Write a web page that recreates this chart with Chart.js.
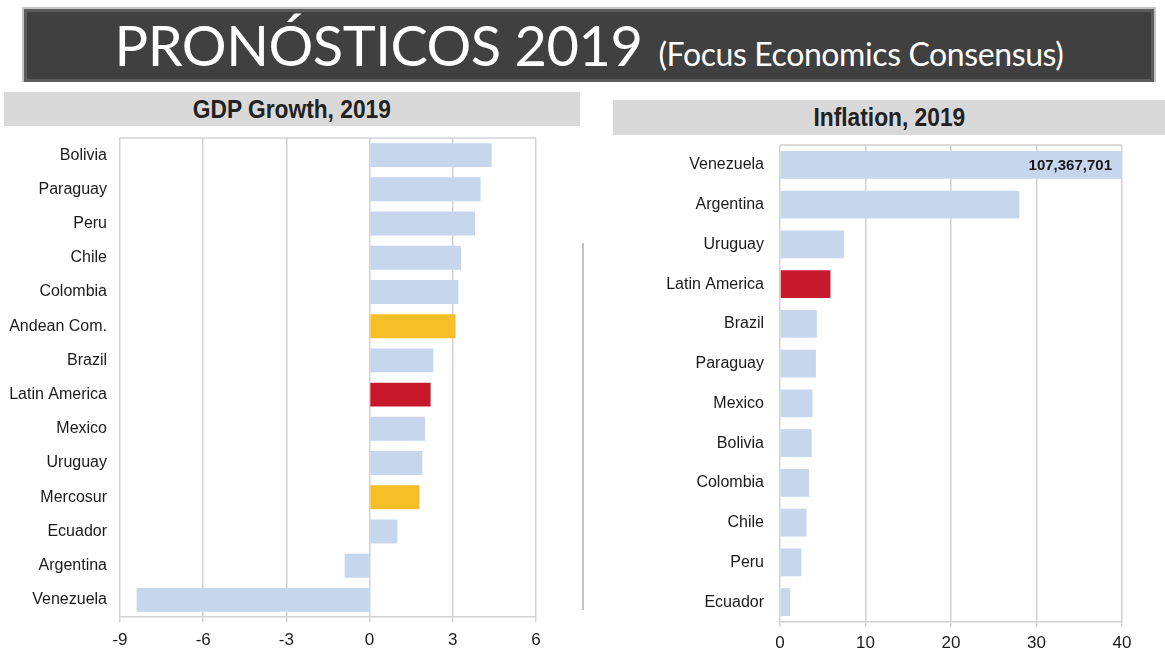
<!DOCTYPE html>
<html>
<head>
<meta charset="utf-8">
<script src="https://cdn.jsdelivr.net/npm/chart.js@4.4.1/dist/chart.umd.min.js"></script>
<style>
  body { margin: 0; width: 1165px; height: 651px; background: #fff; position: relative; overflow: hidden; font-family: "Liberation Sans", Arial, sans-serif; }
  .banner { position: absolute; left: 22px; top: 7px; width: 1134px; height: 75px; background: #404040; border: 2px solid #c4c4c4; border-bottom: none; box-shadow: inset 0 0 0 3px #5c5c5c; display: flex; justify-content: center; align-items: baseline; color: #fff; font-family: Lato, "Open Sans", sans-serif; box-sizing: border-box; padding-top: 2px; }
  .banner .big { font-size: 56px; font-weight: 400; letter-spacing: -0.5px; }
  .banner .small { font-size: 32px; margin-left: 16px; letter-spacing: -0.4px; }
  .head { position: absolute; background: #d9d9d9; color: #222; font-weight: bold; font-size: 25px; text-align: center; }
  .head span { display: inline-block; transform: scaleX(0.91); }
  #gdpHead { left: 4px; top: 92px; width: 576px; height: 34px; line-height: 34px; }
  #infHead { left: 613px; top: 100px; width: 552px; height: 35px; line-height: 35px; }
  .sep { position: absolute; left: 582px; top: 243px; width: 2px; height: 367px; background: #c4c4c4; }
  canvas { position: absolute; }
  #gdp { left: 0; top: 128px; }
  #inf { left: 595px; top: 135px; }
</style>
</head>
<body>
<div class="banner"><span class="big">PRONÓSTICOS 2019</span><span class="small">(Focus Economics Consensus)</span></div>
<div class="head" id="gdpHead"><span>GDP Growth, 2019</span></div>
<div class="head" id="infHead"><span>Inflation, 2019</span></div>
<div class="sep"></div>
<canvas id="gdp" width="565" height="523"></canvas>
<canvas id="inf" width="570" height="516"></canvas>
<script>
const gdpCountries = ['Bolivia', 'Paraguay', 'Peru', 'Chile', 'Colombia', 'Andean Com.', 'Brazil', 'Latin America', 'Mexico', 'Uruguay', 'Mercosur', 'Ecuador', 'Argentina', 'Venezuela'];
const gdpValues = [4.4, 4.0, 3.8, 3.3, 3.2, 3.1, 2.3, 2.2, 2.0, 1.9, 1.8, 1.0, -0.9, -8.4];
const gdpTicks = [-9, -6, -3, 0, 3, 6];

const infCountries = ['Venezuela', 'Argentina', 'Uruguay', 'Latin America', 'Brazil', 'Paraguay', 'Mexico', 'Bolivia', 'Colombia', 'Chile', 'Peru', 'Ecuador'];
const infValues = [107367701, 28.0, 7.5, 5.9, 4.3, 4.2, 3.8, 3.7, 3.4, 3.1, 2.5, 1.2];
const infTicks = [0, 10, 20, 30, 40];

const blocs = ['Andean Com.', 'Mercosur'];
const region = 'Latin America';

const FONT = '"Liberation Sans", Arial, sans-serif';
const barColor = name => name === region ? '#c8182c' : blocs.includes(name) ? '#f6bf27' : '#c6d6ec';

const topLine = {
  id: 'topLine',
  beforeDatasetsDraw(chart) {
    const { ctx, chartArea: a } = chart;
    ctx.save();
    ctx.strokeStyle = '#d2d2d2';
    ctx.lineWidth = 1.5;
    ctx.beginPath();
    ctx.moveTo(a.left, a.top);
    ctx.lineTo(a.right, a.top);
    ctx.stroke();
    ctx.restore();
  }
};

// value printed on bars that run past the axis maximum
const overflowLabel = {
  id: 'overflowLabel',
  afterDatasetsDraw(chart) {
    const { ctx, scales } = chart;
    const meta = chart.getDatasetMeta(0);
    const data = chart.data.datasets[0].data;
    ctx.save();
    ctx.font = 'bold 15px ' + FONT;
    ctx.fillStyle = '#1a1a1a';
    ctx.textAlign = 'right';
    ctx.textBaseline = 'middle';
    data.forEach((v, i) => {
      if (v > scales.x.max) {
        const bar = meta.data[i];
        ctx.fillText(v.toLocaleString('en-US'), scales.x.right - 10, bar.y + 1);
      }
    });
    ctx.restore();
  }
};

function noPad(s) {
  s.paddingTop = 0; s.paddingBottom = 0; s.paddingLeft = 0; s.paddingRight = 0;
}

function makeChart(id, labels, values, ticks, opts) {
  return new Chart(document.getElementById(id), {
    type: 'bar',
    data: {
      labels: labels,
      datasets: [{
        data: values,
        backgroundColor: labels.map(barColor),
        barPercentage: 0.7,
        categoryPercentage: 1
      }]
    },
    options: {
      indexAxis: 'y',
      responsive: false,
      animation: false,
      devicePixelRatio: 1,
      layout: { padding: { top: opts.top, right: opts.right, left: 0, bottom: 0 } },
      plugins: { legend: { display: false }, tooltip: { enabled: false } },
      scales: {
        x: {
          min: ticks[0],
          max: ticks[ticks.length - 1],
          afterBuildTicks: s => { s.ticks = ticks.map(v => ({ value: v })); },
          afterFit: s => { s.height = opts.xh; noPad(s); },
          grid: { color: '#d2d2d2', lineWidth: 1.5, tickLength: 5, drawTicks: true },
          border: { color: '#d2d2d2', width: 1.5 },
          ticks: { color: '#1a1a1a', font: { family: FONT, size: 17 }, padding: opts.tp, maxRotation: 0 }
        },
        y: {
          afterFit: s => { s.width = opts.yw; noPad(s); },
          grid: { display: false, drawTicks: false },
          border: { display: false },
          ticks: { color: '#1a1a1a', font: { family: FONT, size: 16 }, padding: opts.yp, autoSkip: false }
        }
      }
    },
    plugins: [topLine, overflowLabel]
  });
}

makeChart('gdp', gdpCountries, gdpValues, gdpTicks, { top: 10, right: 29, xh: 34, tp: 8, yw: 120, yp: 13 });
makeChart('inf', infCountries, infValues, infTicks, { top: 10, right: 43, xh: 29, tp: 6, yw: 185, yp: 16 });
</script>
</body>
</html>
